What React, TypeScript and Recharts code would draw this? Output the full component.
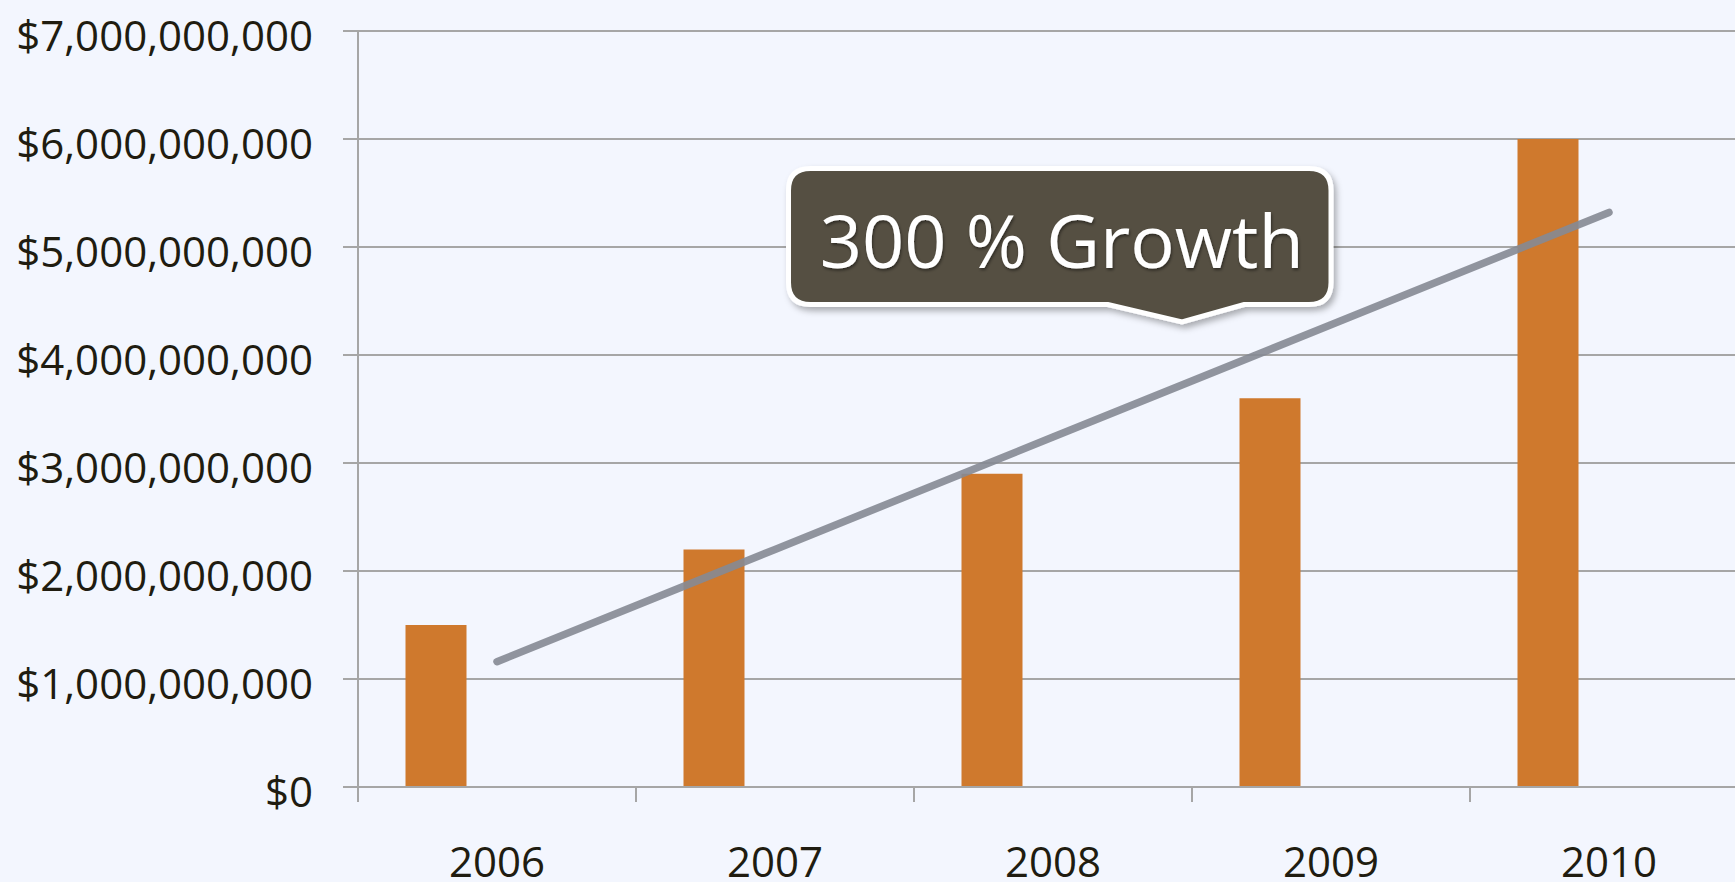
// Receita anual 2006–2010 com linha de tendência e balão "300 % Growth"
import { ComposedChart, Bar, Line, XAxis, YAxis, CartesianGrid } from 'recharts';

const years = ['2006', '2007', '2008', '2009', '2010'];
const revenue = [1.5e9, 2.2e9, 2.9e9, 3.6e9, 6.0e9];
const trend = [1.16e9, 2.2e9, 3.24e9, 4.28e9, 5.32e9];
// the original chart reserved room for two more (empty) series per year
const spacerA = [null, null, null, null, null];
const spacerB = [null, null, null, null, null];
const yTicks = [0, 1e9, 2e9, 3e9, 4e9, 5e9, 6e9, 7e9];
const calloutText = '300 % Growth';

const data = years.map((year, i) => ({
  year,
  revenue: revenue[i],
  trend: trend[i],
  spacerA: spacerA[i],
  spacerB: spacerB[i],
}));

const FONT = '"Open Sans", "DejaVu Sans", sans-serif';
const INK = '#201c10';
const GRID = '#a6a6a6';

const money = (v: number) => '$' + v.toLocaleString('en-US');

function YTick(props: any) {
  const { x, y, payload } = props;
  return (
    <text x={x} y={y + 20} textAnchor="end" fill={INK} fontSize={42} fontFamily={FONT}>
      {money(payload.value)}
    </text>
  );
}

// label in the middle of the band, tick mark on the band's left edge
function XTick(props: any) {
  const { x, y, payload } = props;
  const half = payload.offset ?? 0;
  return (
    <g>
      <line x1={x - half} x2={x - half} y1={y - 15} y2={y} stroke={GRID} strokeWidth={2} />
      <text x={x} y={y + 75} textAnchor="middle" fill={INK} fontSize={42} fontFamily={FONT}>
        {payload.value}
      </text>
    </g>
  );
}

function Callout() {
  const l = 788.5, r = 1331, t = 168.5, b = 304.5, rad = 22;
  const p1 = 1108, tipX = 1182, tipY = 322, p2 = 1244;
  const d = [
    `M ${l + rad} ${t}`,
    `L ${r - rad} ${t}`,
    `Q ${r} ${t} ${r} ${t + rad}`,
    `L ${r} ${b - rad}`,
    `Q ${r} ${b} ${r - rad} ${b}`,
    `L ${p2} ${b}`,
    `L ${tipX} ${tipY}`,
    `L ${p1} ${b}`,
    `L ${l + rad} ${b}`,
    `Q ${l} ${b} ${l} ${b - rad}`,
    `L ${l} ${t + rad}`,
    `Q ${l} ${t} ${l + rad} ${t}`,
    'Z',
  ].join(' ');
  return (
    <svg
      width={1735}
      height={882}
      style={{ position: 'absolute', left: 0, top: 0, pointerEvents: 'none' }}
    >
      <defs>
        <filter id="shadow" x="-10%" y="-20%" width="120%" height="150%">
          <feDropShadow dx={3} dy={4} stdDeviation={3} floodColor="#000" floodOpacity={0.3} />
        </filter>
        <filter id="tshadow" x="-5%" y="-20%" width="110%" height="140%">
          <feDropShadow dx={1} dy={2} stdDeviation={1.5} floodColor="#000" floodOpacity={0.45} />
        </filter>
      </defs>
      <path d={d} fill="#545043" stroke="#ffffff" strokeWidth={5} filter="url(#shadow)" />
      <text
        x={(l + r) / 2 + 2}
        y={268}
        textAnchor="middle"
        fill="#ffffff"
        fontSize={74}
        fontFamily={FONT}
        filter="url(#tshadow)"
      >
        {calloutText}
      </text>
    </svg>
  );
}

export default function App() {
  return (
    <div
      style={{
        position: 'absolute',
        left: 0,
        top: 0,
        width: 1735,
        height: 882,
        overflow: 'hidden',
        background: '#f3f6fe',
      }}
    >
      <ComposedChart
        width={1760}
        height={882}
        data={data}
        margin={{ top: 31, right: 12, bottom: 0, left: 0 }}
        barGap={0}
        barCategoryGap={47.5}
      >
        <CartesianGrid vertical={false} stroke={GRID} strokeWidth={2} />
        <XAxis
          dataKey="year"
          height={95}
          axisLine={{ stroke: GRID, strokeWidth: 2 }}
          tickLine={false}
          tickSize={15}
          tickMargin={0}
          tick={<XTick />}
          interval={0}
        />
        <YAxis
          width={358}
          domain={[0, 7e9]}
          ticks={yTicks}
          interval={0}
          axisLine={{ stroke: GRID, strokeWidth: 2 }}
          tickLine={{ stroke: GRID, strokeWidth: 2 }}
          tickSize={15}
          tickMargin={30}
          tick={<YTick />}
        />
        <Bar dataKey="revenue" fill="#cf792d" isAnimationActive={false} />
        <Bar dataKey="spacerA" fill="#cf792d" isAnimationActive={false} />
        <Bar dataKey="spacerB" fill="#cf792d" isAnimationActive={false} />
        <Line
          type="linear"
          dataKey="trend"
          stroke="#858a93"
          strokeOpacity={0.9}
          strokeWidth={7.5}
          strokeLinecap="round"
          dot={false}
          activeDot={false}
          isAnimationActive={false}
        />
      </ComposedChart>
      <Callout />
    </div>
  );
}
